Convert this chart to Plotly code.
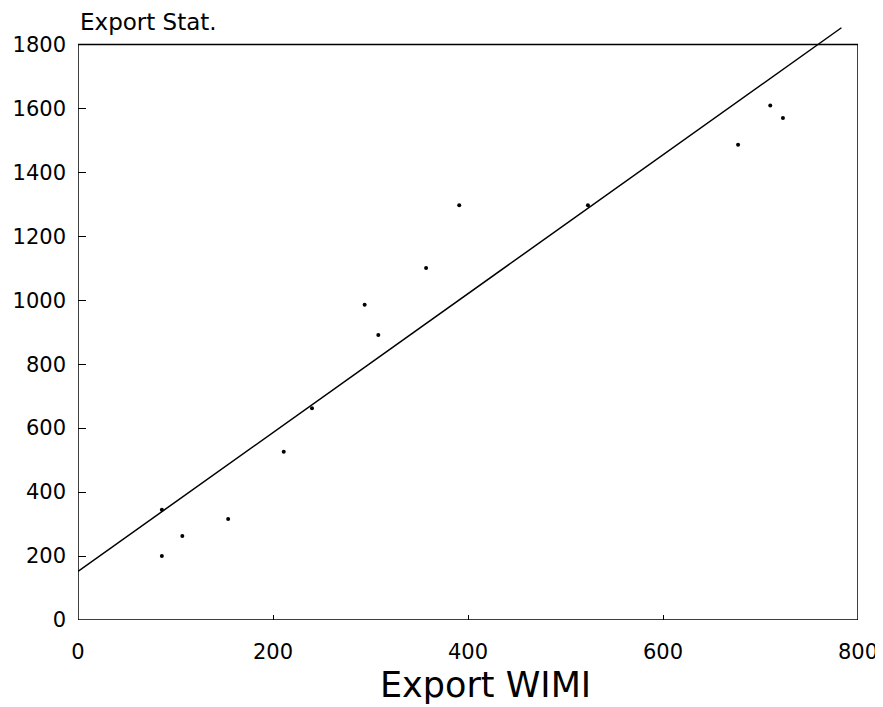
import plotly.graph_objects as go

# Scatter data (Export WIMI vs Export Stat.)
wimi = [86, 86, 107, 154, 211, 240, 294, 308, 357, 391, 523, 677, 710, 723]
stat = [200, 345, 263, 316, 526, 662, 986, 891, 1101, 1297, 1297, 1486, 1609, 1570]

# Regression line endpoints
line_x = [0, 783]
line_y = [152, 1852]

x_ticks = [0, 200, 400, 600, 800]
y_ticks = [0, 200, 400, 600, 800, 1000, 1200, 1400, 1600, 1800]

FONT = "DejaVu Sans"

fig = go.Figure()
fig.add_trace(go.Scatter(x=line_x, y=line_y, mode="lines",
                         line=dict(color="black", width=1.5), showlegend=False,
                         cliponaxis=False))
fig.add_trace(go.Scatter(x=wimi, y=stat, mode="markers",
                         marker=dict(color="black", size=4), showlegend=False))

fig.add_shape(type="rect", xref="x", yref="y", x0=0, x1=800, y0=0, y1=1800,
              line=dict(color="black", width=1.5), layer="above")

fig.update_xaxes(range=[0, 800], tickvals=x_ticks, ticktext=[str(v) for v in x_ticks],
                 ticks="inside", ticklen=5, tickcolor="black", showgrid=False,
                 zeroline=False, showline=False, automargin=False,
                 tickfont=dict(family=FONT, size=21, color="black"),
                 ticklabelstandoff=17)
fig.update_yaxes(range=[0, 1870], tickvals=y_ticks, ticktext=[str(v) for v in y_ticks],
                 ticks="inside", ticklen=8, tickcolor="black", showgrid=False,
                 zeroline=False, showline=False, automargin=False,
                 tickfont=dict(family=FONT, size=21, color="black"),
                 ticklabelstandoff=11)

fig.add_annotation(text="Export Stat.", xref="paper", yref="paper", x=0, y=1,
                   xanchor="left", yanchor="middle", showarrow=False,
                   font=dict(family=FONT, size=23, color="black"))
fig.add_annotation(text="Export WIMI", xref="paper", yref="paper", x=0.523, y=-0.109,
                   xanchor="center", yanchor="middle", showarrow=False,
                   font=dict(family=FONT, size=35, color="black"))

fig.update_layout(width=883, height=707, margin=dict(l=70, r=33, t=14, b=95),
                  plot_bgcolor="white", paper_bgcolor="white",
                  font=dict(family=FONT, color="black"))

fig.write_html("out.html")
